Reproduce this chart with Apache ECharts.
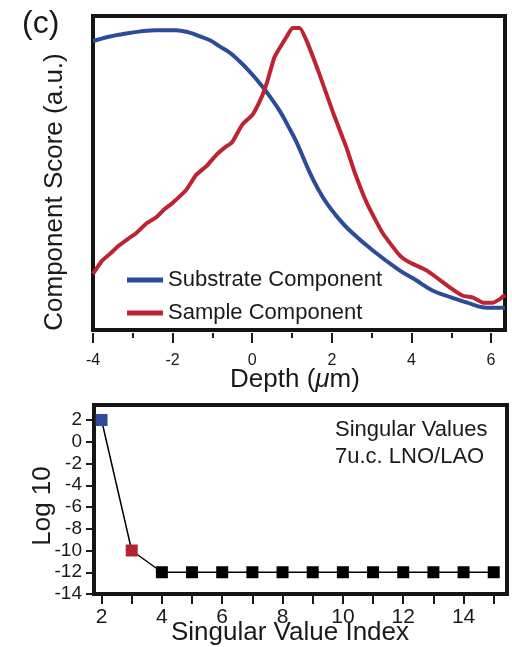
<!DOCTYPE html>
<html>
<head>
<meta charset="utf-8">
<script src="https://cdn.jsdelivr.net/npm/echarts@6/dist/echarts.min.js"></script>
<style>
  html, body { margin: 0; padding: 0; background: #fff; }
  #chart { width: 512px; height: 647px; }
</style>
</head>
<body>
<div id="chart"></div>
<script>
// Depth profiles of the two principal components (arbitrary units)
const substrateDepth = [-4.0, -3.6, -3.27, -2.8, -2.41, -1.91, -1.6, -1.33, -1.05, -0.83, -0.55, -0.32, -0.1, 0.11, 0.36, 0.69, 0.9, 1.11, 1.44, 1.65, 1.87, 2.15, 2.45, 3.03, 3.71, 4.1, 4.54, 5.0, 5.4, 5.9, 6.35];
const substrateScore = [0.920, 0.934, 0.942, 0.951, 0.955, 0.955, 0.948, 0.936, 0.922, 0.904, 0.882, 0.856, 0.828, 0.798, 0.758, 0.698, 0.650, 0.599, 0.503, 0.450, 0.404, 0.358, 0.317, 0.253, 0.189, 0.160, 0.125, 0.104, 0.087, 0.071, 0.071];

const sampleDepth = [-4.0, -3.77, -3.55, -3.35, -3.1, -2.92, -2.65, -2.41, -2.2, -2.01, -1.66, -1.41, -1.15, -0.9, -0.7, -0.5, -0.25, 0.01, 0.23, 0.38, 0.56, 0.86, 1.01, 1.19, 1.37, 1.69, 2.02, 2.37, 2.57, 2.88, 3.28, 3.71, 3.96, 4.39, 4.97, 5.29, 5.55, 5.8, 6.05, 6.23, 6.35];
const sampleScore = [0.179, 0.221, 0.245, 0.269, 0.292, 0.308, 0.340, 0.359, 0.385, 0.404, 0.446, 0.494, 0.522, 0.558, 0.580, 0.599, 0.654, 0.686, 0.740, 0.792, 0.869, 0.933, 0.962, 0.962, 0.920, 0.814, 0.696, 0.580, 0.503, 0.404, 0.308, 0.237, 0.215, 0.189, 0.135, 0.109, 0.103, 0.087, 0.087, 0.099, 0.112];

const depthTicksMajor = [-4, -2, 0, 2, 4, 6];
const depthTicksMinor = [-3, -1, 1, 3, 5];

// Singular values (log10) by index
const svIndex = [2, 3, 4, 5, 6, 7, 8, 9, 10, 11, 12, 13, 14, 15];
const svLog = [2, -10, -12, -12, -12, -12, -12, -12, -12, -12, -12, -12, -12, -12];
const svColors = ['#2e4c9c', '#b52230', '#000', '#000', '#000', '#000', '#000', '#000', '#000', '#000', '#000', '#000', '#000', '#000'];
const indexTicks = [2, 3, 4, 5, 6, 7, 8, 9, 10, 11, 12, 13, 14, 15];
const indexLabels = [2, 4, 6, 8, 10, 12, 14];
const logTicks = [-14, -12, -10, -8, -6, -4, -2, 0, 2];

const FONT = "'Liberation Sans', Arial, sans-serif";
const INK = '#1a1a1a';
const BLUE = '#2b4b9b';
const RED = '#bd2331';

const zip = (xs, ys) => xs.map((x, i) => [x, ys[i]]);

const chart = echarts.init(document.getElementById('chart'), null, { renderer: 'canvas' });

const tickStyle = { color: INK, width: 2 };

chart.setOption({
  animation: false,
  backgroundColor: '#fff',
  textStyle: { fontFamily: FONT, color: INK },
  grid: [
    { left: 93, top: 16, width: 412, height: 314, show: true, borderColor: '#151515', borderWidth: 4, backgroundColor: 'transparent' },
    { left: 94, top: 405, width: 413, height: 189, show: true, borderColor: '#151515', borderWidth: 4, backgroundColor: 'transparent' }
  ],
  xAxis: [
    {
      gridIndex: 0, type: 'value', position: 'bottom', min: -4, max: 6.35, offset: 3,
      axisLine: { show: false, onZero: false },
      axisTick: { show: true, length: 10, customValues: depthTicksMajor, lineStyle: tickStyle },
      axisLabel: { customValues: depthTicksMajor, fontSize: 16, margin: 20, color: INK, fontFamily: FONT },
      splitLine: { show: false }
    },
    {
      gridIndex: 0, type: 'value', position: 'bottom', min: -4, max: 6.35, offset: 3,
      axisLine: { show: false, onZero: false },
      axisTick: { show: true, length: 5, customValues: depthTicksMinor, lineStyle: tickStyle },
      axisLabel: { show: false },
      splitLine: { show: false }
    },
    {
      gridIndex: 1, type: 'value', position: 'bottom', min: 1.75, max: 15.44,
      axisLine: { show: false, onZero: false },
      axisTick: { show: true, length: 10, customValues: indexTicks, lineStyle: tickStyle },
      axisLabel: { customValues: indexLabels, fontSize: 21, margin: 13, color: INK, fontFamily: FONT },
      splitLine: { show: false }
    }
  ],
  yAxis: [
    {
      gridIndex: 0, type: 'value', min: 0, max: 1,
      axisLine: { show: false, onZero: false }, axisTick: { show: false }, axisLabel: { show: false },
      splitLine: { show: false }
    },
    {
      gridIndex: 1, type: 'value', position: 'left', min: -14, max: 3.38,
      axisLine: { show: false, onZero: false },
      axisTick: { show: true, length: 8, customValues: logTicks, lineStyle: tickStyle },
      axisLabel: { customValues: logTicks, fontSize: 19, margin: 12, color: INK, fontFamily: FONT },
      splitLine: { show: false }
    }
  ],
  legend: {
    orient: 'vertical', left: 122, top: 264,
    itemWidth: 36, itemHeight: 5, itemGap: 11, icon: 'rect',
    textStyle: { fontSize: 22, color: INK, fontFamily: FONT },
    data: ['Substrate Component', 'Sample Component']
  },
  series: [
    {
      name: 'Substrate Component', type: 'line', xAxisIndex: 0, yAxisIndex: 0,
      data: zip(substrateDepth, substrateScore),
      smooth: 0.4, showSymbol: false, symbol: 'none',
      lineStyle: { color: BLUE, width: 4 }, itemStyle: { color: BLUE }
    },
    {
      name: 'Sample Component', type: 'line', xAxisIndex: 0, yAxisIndex: 0,
      data: zip(sampleDepth, sampleScore),
      smooth: 0.15, showSymbol: false, symbol: 'none',
      lineStyle: { color: RED, width: 4 }, itemStyle: { color: RED }
    },
    {
      name: 'Singular Values', type: 'line', xAxisIndex: 2, yAxisIndex: 1,
      data: svIndex.map((x, i) => ({ value: [x, svLog[i]], itemStyle: { color: svColors[i] } })),
      symbol: 'rect', symbolSize: 12, showAllSymbol: true,
      lineStyle: { color: '#000', width: 1.5 }
    }
  ],
  graphic: [
    { type: 'text', x: 22, y: 8, style: { text: '(c)', fontSize: 32, fontFamily: FONT, fill: INK } },
    { type: 'text', x: 55, y: 192, rotation: Math.PI / 2,
      style: { text: 'Component Score (a.u.)', fontSize: 26, fontFamily: FONT, fill: INK, textAlign: 'center', textVerticalAlign: 'middle' } },
    { type: 'text', x: 295, y: 380,
      style: { text: 'Depth ({i|μ}m)', fontSize: 26, fontFamily: FONT, fill: INK, textAlign: 'center', textVerticalAlign: 'middle',
        rich: { i: { fontSize: 26, fontFamily: FONT, fontStyle: 'italic', fill: INK } } } },
    { type: 'text', x: 43, y: 506, rotation: Math.PI / 2,
      style: { text: 'Log 10', fontSize: 26, fontFamily: FONT, fill: INK, textAlign: 'center', textVerticalAlign: 'middle' } },
    { type: 'text', x: 290, y: 633,
      style: { text: 'Singular Value Index', fontSize: 26, fontFamily: FONT, fill: INK, textAlign: 'center', textVerticalAlign: 'middle' } },
    { type: 'text', x: 335, y: 430,
      style: { text: 'Singular Values', fontSize: 22, fontFamily: FONT, fill: INK, textAlign: 'left', textVerticalAlign: 'middle' } },
    { type: 'text', x: 335, y: 457,
      style: { text: '7u.c. LNO/LAO', fontSize: 22, fontFamily: FONT, fill: INK, textAlign: 'left', textVerticalAlign: 'middle' } }
  ]
});
</script>
</body>
</html>
